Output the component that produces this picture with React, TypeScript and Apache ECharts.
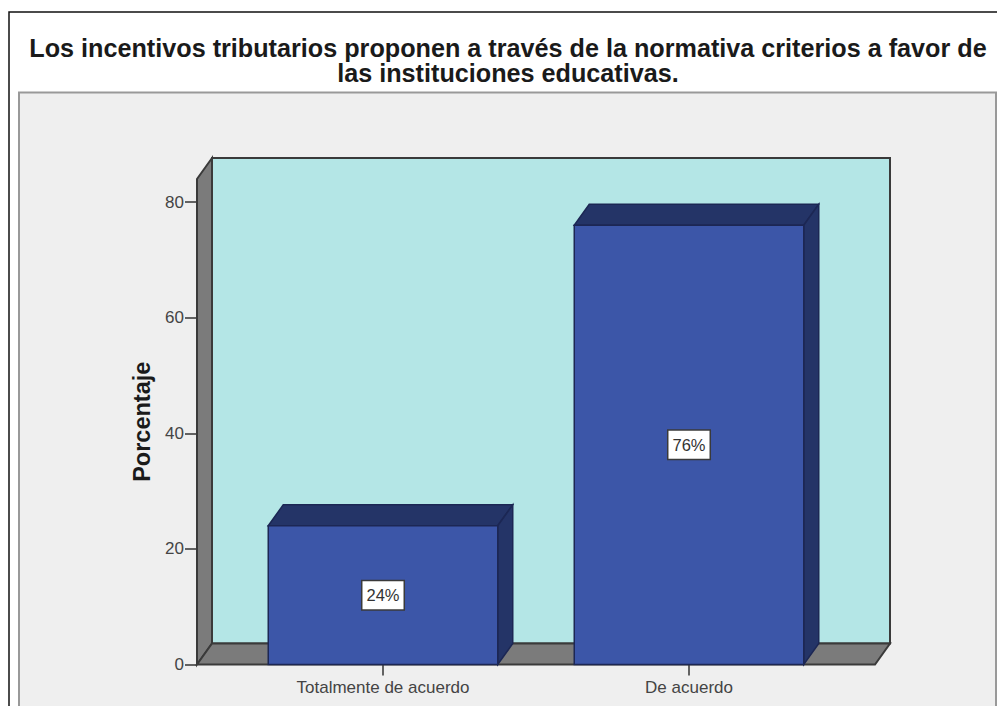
import React, { useEffect, useRef } from "react";
import * as echarts from "echarts";

const categories = ["Totalmente de acuerdo", "De acuerdo"];
const percentages = [24, 76];
const yTicks = [0, 20, 40, 60, 80];
const yMax = 84;
const titleText =
  "Los incentivos tributarios proponen a través de la normativa criterios a favor de\nlas instituciones educativas.";
const yName = "Porcentaje";

// Oblique offset of the 3D projection, in pixels.
const DEPTH_X = 15;
const DEPTH_Y = -21;
// The walls reach past the two category bands on each side.
const WALL_OVERHANG = 33;
const BAR_SHARE = 0.75;

const OUTLINE = "#1c2754";
const WALL_OUTLINE = "#3a3a3a";

function renderWalls(params: any, api: any) {
  const sys = params.coordSys;
  const l = sys.x - WALL_OVERHANG;
  const r = sys.x + sys.width + WALL_OVERHANG;
  const b = sys.y + sys.height;
  const t = sys.y;
  const style = (fill: string) => ({ fill, stroke: WALL_OUTLINE, lineWidth: 2 });
  return {
    type: "group",
    children: [
      {
        type: "polygon",
        shape: {
          points: [
            [l + DEPTH_X, t + DEPTH_Y],
            [r + DEPTH_X, t + DEPTH_Y],
            [r + DEPTH_X, b + DEPTH_Y],
            [l + DEPTH_X, b + DEPTH_Y],
          ],
        },
        style: style("#b4e6e6"),
      },
      {
        type: "polygon",
        shape: {
          points: [
            [l, t],
            [l + DEPTH_X, t + DEPTH_Y],
            [l + DEPTH_X, b + DEPTH_Y],
            [l, b],
          ],
        },
        style: style("#7b7b7b"),
      },
      {
        type: "polygon",
        shape: {
          points: [
            [l, b],
            [l + DEPTH_X, b + DEPTH_Y],
            [r + DEPTH_X, b + DEPTH_Y],
            [r, b],
          ],
        },
        style: style("#7b7b7b"),
      },
    ],
  };
}

function renderBar(params: any, api: any) {
  const value = api.value(1);
  const top = api.coord([api.value(0), value]);
  const base = api.coord([api.value(0), 0]);
  const half = (api.size([1, 0])[0] * BAR_SHARE) / 2;
  const l = top[0] - half;
  const r = top[0] + half;
  const t = top[1];
  const b = base[1];
  const edge = (fill: string) => ({ fill, stroke: OUTLINE, lineWidth: 1.5 });
  return {
    type: "group",
    children: [
      {
        type: "polygon",
        shape: {
          points: [
            [l, t],
            [l + DEPTH_X, t + DEPTH_Y],
            [r + DEPTH_X, t + DEPTH_Y],
            [r, t],
          ],
        },
        style: edge("#243467"),
      },
      {
        type: "polygon",
        shape: {
          points: [
            [r, t],
            [r + DEPTH_X, t + DEPTH_Y],
            [r + DEPTH_X, b + DEPTH_Y],
            [r, b],
          ],
        },
        style: edge("#243467"),
      },
      {
        type: "rect",
        shape: { x: l, y: t, width: r - l, height: b - t },
        style: edge("#3c56a8"),
      },
      {
        type: "text",
        x: top[0],
        y: (t + b) / 2,
        style: {
          text: `${value}%`,
          align: "center",
          verticalAlign: "middle",
          fontFamily: "Liberation Sans",
          fontSize: 16.5,
          fill: "#333333",
          backgroundColor: "#ffffff",
          borderColor: "#3a3a3a",
          borderWidth: 1.5,
          padding: [6, 4, 5, 4],
        },
      },
    ],
  };
}

export default function App() {
  const ref = useRef<HTMLDivElement>(null);

  useEffect(() => {
    document.body.style.margin = "0";
    document.body.style.background = "#ffffff";
    const chart = echarts.init(ref.current!, undefined, { renderer: "svg" });
    chart.setOption({
      animation: false,
      backgroundColor: "#ffffff",
      title: {
        text: titleText,
        left: 503,
        top: 30,
        textAlign: "center",
        textStyle: {
          fontFamily: "Liberation Sans",
          fontWeight: "bold",
          fontSize: 25.2,
          lineHeight: 25.5,
          color: "#1a1a1a",
        },
      },
      graphic: [
        {
          type: "rect",
          z: -2,
          shape: { x: 9, y: 12, width: 1100, height: 800 },
          style: { fill: "#ffffff", stroke: "#111111", lineWidth: 1.5 },
        },
        {
          type: "rect",
          z: -1,
          shape: { x: 19, y: 92.5, width: 977, height: 700 },
          style: { fill: "#efefef", stroke: "#999999", lineWidth: 2 },
        },
      ],
      grid: { left: 230, width: 612, top: 179, height: 485.5 },
      xAxis: {
        type: "category",
        data: categories,
        axisLine: { show: false },
        axisTick: {
          show: true,
          alignWithLabel: true,
          length: 11,
          lineStyle: { color: "#333333", width: 1.5 },
        },
        axisLabel: {
          show: true,
          margin: 14,
          fontFamily: "Liberation Sans",
          fontSize: 17,
          color: "#444444",
        },
      },
      yAxis: {
        type: "value",
        min: 0,
        max: yMax,
        offset: 33,
        name: yName,
        nameLocation: "middle",
        nameGap: 40,
        nameTextStyle: {
          fontFamily: "Liberation Sans",
          fontWeight: "bold",
          fontSize: 23.5,
          color: "#1a1a1a",
        },
        splitLine: { show: false },
        axisLine: { show: false },
        axisTick: {
          show: true,
          length: 12,
          customValues: yTicks,
          lineStyle: { color: "#333333", width: 1.5 },
        },
        axisLabel: {
          margin: 13,
          customValues: yTicks,
          fontFamily: "Liberation Sans",
          fontSize: 17,
          color: "#444444",
        },
      },
      series: [
        {
          type: "custom",
          z: 1,
          silent: true,
          clip: false,
          renderItem: renderWalls,
          data: [[0, 0]],
          encode: { x: 0, y: 1 },
        },
        {
          type: "custom",
          z: 2,
          clip: false,
          renderItem: renderBar,
          data: percentages.map((v, i) => [i, v]),
          encode: { x: 0, y: 1 },
        },
      ],
    });
    return () => chart.dispose();
  }, []);

  return <div ref={ref} style={{ width: 997, height: 706 }} />;
}
